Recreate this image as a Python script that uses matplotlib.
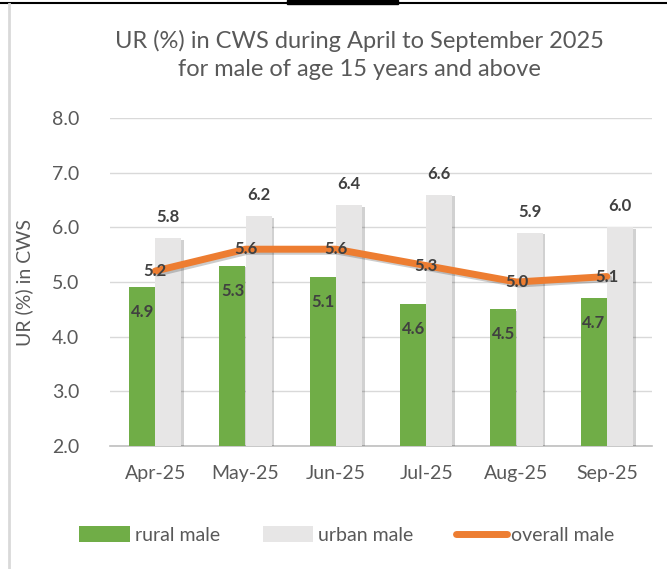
import matplotlib
matplotlib.use("Agg")
import matplotlib.pyplot as plt
import matplotlib.patheffects as pe
from matplotlib.patches import Patch, Rectangle
from matplotlib.lines import Line2D
import numpy as np

months = ["Apr-25", "May-25", "Jun-25", "Jul-25", "Aug-25", "Sep-25"]
rural_male = [4.9, 5.3, 5.1, 4.6, 4.5, 4.7]
urban_male = [5.8, 6.2, 6.4, 6.6, 5.9, 6.0]
overall_male = [5.2, 5.6, 5.6, 5.3, 5.0, 5.1]
yticks = [2.0, 3.0, 4.0, 5.0, 6.0, 7.0, 8.0]

plt.rcParams['font.family'] = ['Lato', 'DejaVu Sans']

W, H = 667, 569
fig = plt.figure(figsize=(W / 100, H / 100), dpi=100)
fig.patch.set_facecolor('white')

# frame decorations
fig.add_artist(Line2D([0, 1], [1 - 3 / H, 1 - 3 / H], color='black', lw=1.5, transform=fig.transFigure))
fig.add_artist(Rectangle((287 / W, 1 - 4 / H), 111 / W, 4 / H, color='black', transform=fig.transFigure))
fig.add_artist(Line2D([9 / W, 9 / W], [0, 1 - 4 / H], color='#D9D9D9', lw=2, transform=fig.transFigure))

ax = fig.add_axes([110 / W, 1 - 446 / H, (652 - 110) / W, (446 - 118) / H])
x = np.arange(len(months))
bw = 0.288
shadow = [pe.SimplePatchShadow(offset=(2, -1), alpha=0.18, shadow_rgbFace='black'), pe.Normal()]

b1 = ax.bar(x - bw / 2, np.array(rural_male) - 2.0, bw, bottom=2.0, color='#70AD47', zorder=3,
            path_effects=shadow)
b2 = ax.bar(x + bw / 2, np.array(urban_male) - 2.0, bw, bottom=2.0, color='#E7E6E6', zorder=3,
            path_effects=shadow)
ln, = ax.plot(x, overall_male, color='#ED7D31', lw=5, zorder=4, solid_capstyle='round',
              path_effects=[pe.SimpleLineShadow(offset=(1.5, -1.5), alpha=0.2), pe.Normal()])

lab_col = '#404040'
fs_lab = 12
for xi, v in zip(x, rural_male):
    ax.annotate(f"{v:.1f}", (xi - bw / 2, v), xytext=(0, -25), textcoords='offset pixels',
                ha='center', va='center', fontsize=fs_lab, fontweight='bold', color=lab_col, zorder=6)
for xi, v in zip(x, urban_male):
    ax.annotate(f"{v:.1f}", (xi + bw / 2, v), xytext=(0, 21), textcoords='offset pixels',
                ha='center', va='center', fontsize=fs_lab, fontweight='bold', color=lab_col, zorder=6)
for xi, v in zip(x, overall_male):
    ax.annotate(f"{v:.1f}", (xi, v), xytext=(0, 0), textcoords='offset pixels',
                ha='center', va='center', fontsize=fs_lab, fontweight='bold', color=lab_col, zorder=6)

ax.set_xlim(-0.5, len(months) - 0.5)
ax.set_ylim(2.0, 8.0)
ax.set_yticks(yticks)
ax.set_yticklabels([f"{t:.1f}" for t in yticks])
ax.set_xticks(x)
ax.set_xticklabels(months)
ax.tick_params(axis='both', length=0, labelsize=14, colors='#595959')
ax.tick_params(axis='y', pad=22)
ax.tick_params(axis='x', pad=14)
ax.grid(axis='y', color='#D9D9D9', lw=1, zorder=0)
ax.set_axisbelow(True)
for s in ['top', 'right', 'left']:
    ax.spines[s].set_visible(False)
ax.spines['bottom'].set_color('#BFBFBF')
ax.spines['bottom'].set_linewidth(1.2)
ax.set_ylabel("UR (%) in CWS", fontsize=14, color='#595959', labelpad=4)
ax.yaxis.set_label_coords(-(110 - 33) / (652 - 110), 0.5)

fig.text(359 / W, 1 - 41 / H, "UR (%) in CWS during April to September 2025", ha='center', va='center',
         fontsize=17, color='#595959')
fig.text(359 / W, 1 - 70 / H, "for male of age 15 years and above", ha='center', va='center',
         fontsize=17, color='#595959')

handles = [Patch(facecolor='#70AD47'), Patch(facecolor='#E7E6E6'),
           Line2D([0], [0], color='#ED7D31', lw=5, solid_capstyle='round')]
fig.legend(handles, ["rural male", "urban male", "overall male"], loc='center',
           bbox_to_anchor=(347 / W, 1 - 535 / H), ncol=3, frameon=False, fontsize=14,
           labelcolor='#595959', handlelength=2.6, handleheight=0.9, handletextpad=0.25,
           columnspacing=2.2)

fig.savefig("out.png", dpi=100, facecolor='white')
